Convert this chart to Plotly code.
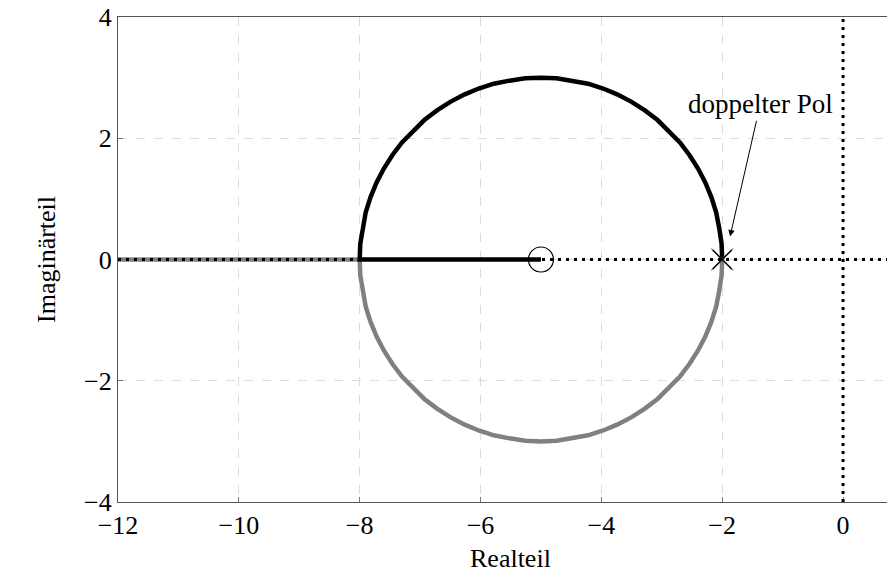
import plotly.graph_objects as go

# ---- data ----
upper_re = [-2.00, -2.01, -2.05, -2.10, -2.18, -2.28, -2.40, -2.54, -2.70, -2.88, -3.07, -3.28,
            -3.50, -3.73, -3.97, -4.22, -4.48, -4.74, -5.00, -5.26, -5.52, -5.78, -6.03, -6.27,
            -6.50, -6.72, -6.93, -7.12, -7.30, -7.46, -7.60, -7.72, -7.82, -7.90, -7.95, -7.99,
            -8.00, -5.00]
upper_im = [0.00, 0.26, 0.52, 0.78, 1.03, 1.27, 1.50, 1.72, 1.93, 2.12, 2.30, 2.46,
            2.60, 2.72, 2.82, 2.90, 2.95, 2.99, 3.00, 2.99, 2.95, 2.90, 2.82, 2.72,
            2.60, 2.46, 2.30, 2.12, 1.93, 1.72, 1.50, 1.27, 1.03, 0.78, 0.52, 0.26,
            0.00, 0.00]
lower_re = [-2.00, -2.01, -2.05, -2.10, -2.18, -2.28, -2.40, -2.54, -2.70, -2.88, -3.07, -3.28,
            -3.50, -3.73, -3.97, -4.22, -4.48, -4.74, -5.00, -5.26, -5.52, -5.78, -6.03, -6.27,
            -6.50, -6.72, -6.93, -7.12, -7.30, -7.46, -7.60, -7.72, -7.82, -7.90, -7.95, -7.99,
            -8.00, -12.00]
lower_im = [0.00, -0.26, -0.52, -0.78, -1.03, -1.27, -1.50, -1.72, -1.93, -2.12, -2.30, -2.46,
            -2.60, -2.72, -2.82, -2.90, -2.95, -2.99, -3.00, -2.99, -2.95, -2.90, -2.82, -2.72,
            -2.60, -2.46, -2.30, -2.12, -1.93, -1.72, -1.50, -1.27, -1.03, -0.78, -0.52, -0.26,
            0.00, 0.00]
zero_re, zero_im = [-5.0], [0.0]
pole_re, pole_im = [-2.0], [0.0]
x_ticks = [-12, -10, -8, -6, -4, -2, 0]
y_ticks = [-4, -2, 0, 2, 4]
x_range = [-12, 0.86]
y_range = [-4, 4]
annot_text = "doppelter Pol"
annot_tip = (-1.87, 0.38)
annot_pos = (-1.37, 2.56)
x_title, y_title = "Realteil", "Imaginärteil"

FONT = "Liberation Serif"
FS = 26
W, H = 887, 566
ML, MR, MT, MB = 110, 0, 9, 72

fig = go.Figure()
fig.add_trace(go.Scatter(x=lower_re, y=lower_im, mode="lines",
                         line=dict(color="#808080", width=4.5), hoverinfo="skip"))
fig.add_trace(go.Scatter(x=upper_re, y=upper_im, mode="lines",
                         line=dict(color="black", width=4.5), hoverinfo="skip"))
fig.add_trace(go.Scatter(x=zero_re, y=zero_im, mode="markers",
                         marker=dict(symbol="circle-open", size=25, color="black",
                                     line=dict(width=1.2, color="black"))))
fig.add_trace(go.Scatter(x=pole_re, y=pole_im, mode="markers",
                         marker=dict(symbol="x-thin-open", size=22, color="#999999",
                                     line=dict(width=1.5, color="#999999"))))
fig.add_trace(go.Scatter(x=pole_re, y=pole_im, mode="markers",
                         marker=dict(symbol="x-thin-open", size=19, color="black",
                                     line=dict(width=1.3, color="black"))))

# dotted real / imaginary axes
fig.add_shape(type="line", xref="paper", yref="y", x0=0, x1=1, y0=0, y1=0,
              line=dict(color="black", width=3, dash="3px,5px"), layer="above")
fig.add_shape(type="line", xref="x", yref="paper", x0=0, x1=0, y0=0, y1=1,
              line=dict(color="black", width=3, dash="3px,5px"), layer="above")

fig.add_annotation(x=annot_tip[0], y=annot_tip[1], ax=annot_pos[0], ay=annot_pos[1],
                   xref="x", yref="y", axref="x", ayref="y", text=annot_text,
                   showarrow=True, arrowhead=2, arrowsize=1.3, arrowwidth=1,
                   arrowcolor="black", font=dict(family=FONT, size=27, color="black"))

plot_w = W - ML - MR
plot_h = H - MT - MB
fig.add_annotation(x=-5.5, y=-56 / plot_h, xref="x", yref="paper", text=x_title,
                   showarrow=False, yanchor="middle",
                   font=dict(family=FONT, size=FS, color="black"))
fig.add_annotation(x=(22 - ML) / plot_w, y=0.5, xref="paper", yref="paper",
                   text=y_title, textangle=-90, showarrow=False,
                   font=dict(family=FONT, size=FS, color="black"))

axis_common = dict(showgrid=True, gridcolor="#dcdcdc", griddash="dash", gridwidth=1,
                   zeroline=False, showline=True, linecolor="#555555", linewidth=1.3,
                   ticks="inside", ticklen=5, tickcolor="#777777", automargin=False,
                   ticklabeloverflow="allow",
                   tickfont=dict(family=FONT, size=FS, color="black"))
fig.update_xaxes(range=x_range, tickvals=x_ticks, mirror=True, **axis_common)
fig.update_yaxes(range=y_range, tickvals=y_ticks, mirror=False, **axis_common)

fig.update_layout(width=W, height=H,
                  margin=dict(l=ML, r=MR, t=MT, b=MB, autoexpand=False),
                  plot_bgcolor="white", paper_bgcolor="white", showlegend=False,
                  font=dict(family=FONT, size=FS, color="black"))
fig.write_html("out.html")
